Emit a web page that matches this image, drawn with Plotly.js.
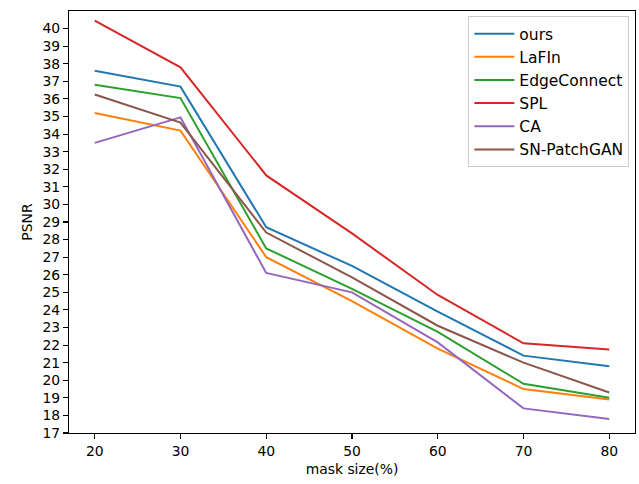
<!DOCTYPE html>
<html>
<head>
<meta charset="utf-8">
<script src="https://cdn.plot.ly/plotly-3.0.1.min.js"></script>
<style>html,body{margin:0;padding:0;background:#fff}#chart{width:639px;height:484px}</style>
</head>
<body>
<div id="chart"></div>
<script>
const maskSizes = [20, 30, 40, 50, 60, 70, 80];
const seriesNames = ["ours", "LaFIn", "EdgeConnect", "SPL", "CA", "SN-PatchGAN"];
const ours        = [37.6, 36.7, 28.7, 26.5, 23.9, 21.4, 20.8];
const lafin       = [35.2, 34.2, 27.0, 24.5, 21.8, 19.5, 18.9];
const edgeConnect = [36.8, 36.05, 27.5, 25.2, 22.75, 19.8, 19.0];
const spl         = [40.45, 37.8, 31.65, 28.35, 24.85, 22.1, 21.75];
const ca          = [33.5, 34.95, 26.1, 25.0, 22.15, 18.4, 17.8];
const snPatchGan  = [36.25, 34.65, 28.4, 25.85, 23.1, 21.0, 19.3];
const yTicks = [17,18,19,20,21,22,23,24,25,26,27,28,29,30,31,32,33,34,35,36,37,38,39,40];
const xTicks = [20, 30, 40, 50, 60, 70, 80];

const colors = ["#1f77b4", "#ff7f0e", "#2ca02c", "#d62728", "#9467bd", "#8c564b"];
const allSeries = [ours, lafin, edgeConnect, spl, ca, snPatchGan];

const traces = allSeries.map((vals, i) => ({
  x: maskSizes, y: vals, name: seriesNames[i], type: "scatter", mode: "lines",
  line: {color: colors[i], width: 2}
}));

const font = {family: "DejaVu Sans", size: 13.9, color: "#000"};
const legendFont = {family: "DejaVu Sans", size: 15.5, color: "#000"};
const layout = {
  width: 639, height: 484,
  margin: {l: 69, r: 4, t: 11, b: 51, pad: 0},
  paper_bgcolor: "#fff", plot_bgcolor: "#fff",
  font: font,
  showlegend: true,
  legend: {
    x: 0.99, xanchor: "right", y: 0.988, yanchor: "top",
    bgcolor: "rgba(255,255,255,0.8)", bordercolor: "#cccccc", borderwidth: 1,
    font: legendFont, tracegroupgap: 0, itemwidth: 40
  },
  xaxis: {
    range: [17, 83], tickvals: xTicks, ticktext: xTicks.map(String),
    showgrid: false, zeroline: false, showline: true, mirror: true,
    linecolor: "#000", linewidth: 1.1, ticks: "outside", ticklen: 5, tickwidth: 1.1, tickcolor: "#000",
    tickfont: font,
    title: {text: "mask size(%)", font: font, standoff: 6}
  },
  yaxis: {
    range: [17, 41], tickvals: yTicks, ticktext: yTicks.map(String),
    showgrid: false, zeroline: false, showline: true, mirror: true,
    linecolor: "#000", linewidth: 1.1, ticks: "outside", ticklen: 5, tickwidth: 1.1, tickcolor: "#000",
    tickfont: font,
    title: {text: "PSNR", font: font, standoff: 6}
  }
};

Plotly.newPlot("chart", traces, layout, {staticPlot: true, displayModeBar: false});
</script>
</body>
</html>
